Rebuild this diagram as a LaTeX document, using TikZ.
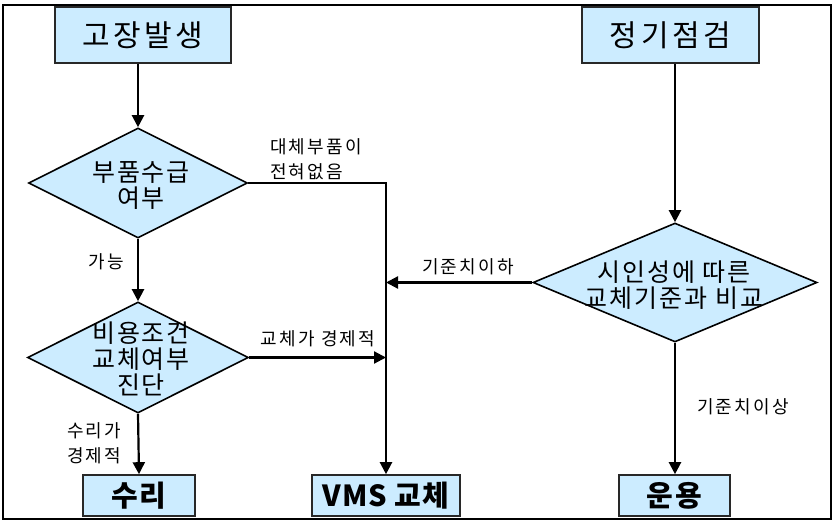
\documentclass[tikz,border=0pt]{standalone}
\usepackage{fontspec}
\setmainfont{Noto Sans CJK KR}
\usepackage{tikz}
\usetikzlibrary{shapes.geometric}
\usetikzlibrary{arrows.meta}
\definecolor{boxblue}{RGB}{204,236,255}
\definecolor{edgegray}{RGB}{40,40,40}

\begin{document}
\begin{tikzpicture}[x=1pt, y=-1pt,
        box/.style={rectangle, draw=edgegray, line width=1.6pt, fill=boxblue, inner sep=0pt},
        dia/.style={diamond, draw=black, line width=1.6pt, fill=boxblue, inner sep=0pt},
        dtext/.style={align=center, font=\fontsize{25}{26}\selectfont\addfontfeature{LetterSpace=8}},
        lbl/.style={font=\fontsize{18}{25}\selectfont\addfontfeature{LetterSpace=12}, inner sep=0pt},
        arr/.style={line width=2.2pt, -{Triangle[length=12pt, width=12pt]}}]
        \useasboundingbox (0,0) rectangle (839,524);
        \draw[line width=1.2pt] (3,5) rectangle (831,519);

        % top boxes
        \node[box, minimum width=176pt, minimum height=56pt, font=\fontsize{30}{32}\selectfont\addfontfeature{LetterSpace=12}] (fault) at (143,35) {고장발생};
        \node[box, minimum width=177pt, minimum height=56pt, font=\fontsize{30}{32}\selectfont\addfontfeature{LetterSpace=12}] (check) at (670.5,35) {정기점검};

        % decisions
        \node[dia, minimum width=219pt, minimum height=110pt] (parts) at (138,183) {};
        \node[dtext] (partst) at (141,186) {부품수급\\여부};
        \node[dia, minimum width=221pt, minimum height=111pt] (cost) at (138,357.5) {};
        \node[dtext] (costt) at (141,359) {비용조건\\교체여부\\진단};
        \node[dia, minimum width=284pt, minimum height=119pt] (crit) at (675,282.5) {};
        \node[dtext] (critt) at (674,285) {시인성에 따른\\교체기준과 비교};

        % bottom boxes
        \node[box, minimum width=112pt, minimum height=41pt, font=\bfseries\fontsize{29}{30}\selectfont\addfontfeature{LetterSpace=6}] (repair) at (139,495.5) {수리};
        \node[box, minimum width=148pt, minimum height=41pt, font=\bfseries\fontsize{29}{30}\selectfont\addfontfeature{LetterSpace=3}] (vms) at (386,495.5) {VMS 교체};
        \node[box, minimum width=111pt, minimum height=41pt, font=\bfseries\fontsize{29}{30}\selectfont\addfontfeature{LetterSpace=6}] (oper) at (674.5,495.5) {운용};

        % connectors
        \draw[arr] (fault.south -| parts.north) -- (parts.north);
        \draw[arr] (parts.south) -- (cost.north);
        \draw[arr] (cost.south) -- (repair.north);
        \draw[arr] (parts.east) -| (vms.north);
        \draw[arr] (cost.east) -- (cost.east -| vms.north);
        \draw[arr] (crit.west) -- (crit.west -| vms.north);
        \draw[arr] (check.south -| crit.north) -- (crit.north);
        \draw[arr] (crit.south) -- (crit.south |- oper.north);

        % labels
        \node[lbl, align=left, anchor=west] (nopart) at (270,159) {대체부품이\\전혀없음};
        \node[lbl] (possible) at (106,262) {가능};
        \node[lbl] (replecon) at (318,339) {교체가 경제적};
        \node[lbl, align=left, anchor=west] (repecon) at (67,443) {수리가\\경제적};
        \node[lbl] (below) at (468,267) {기준치이하};
        \node[lbl] (above) at (743,407) {기준치이상};
        \end{tikzpicture}
\end{document}
